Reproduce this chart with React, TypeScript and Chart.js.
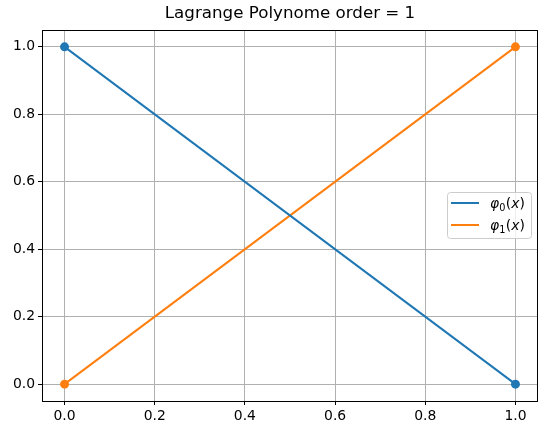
import React, { useEffect, useRef } from "react";
import { Chart, registerables } from "chart.js";
Chart.register(...registerables);

const xNodes = [0, 1];
const phi0Values = [1, 0];
const phi1Values = [0, 1];
const xTicks = [0, 0.2, 0.4, 0.6, 0.8, 1.0];
const yTicks = [0, 0.2, 0.4, 0.6, 0.8, 1.0];
const seriesSubscripts = ["0", "1"];
const seriesColors = ["#1f77b4", "#ff7f0e"];
const titleText = "Lagrange Polynome order = 1";

const FONT = "'DejaVu Sans', sans-serif";
const FS = 13.9;

const framePlugin = {
  id: "frame",
  afterDraw(chart: any) {
    const { ctx, chartArea: a } = chart;
    ctx.save();
    ctx.strokeStyle = "#000";
    ctx.lineWidth = 1;
    const l = Math.round(a.left) + 0.5;
    const t = Math.round(a.top) + 0.5;
    const r = Math.round(a.right) - 0.5;
    const b = Math.round(a.bottom) + 0.5;
    ctx.strokeRect(l, t, r - l, b - t);

    // title
    ctx.fillStyle = "#000";
    ctx.font = `16.7px ${FONT}`;
    ctx.textAlign = "center";
    ctx.textBaseline = "alphabetic";
    ctx.fillText(titleText, (a.left + a.right) / 2, 18);

    // legend
    const bx = 447.5, by = 192.5, bw = 84, bh = 46, rad = 3;
    ctx.beginPath();
    ctx.moveTo(bx + rad, by);
    ctx.lineTo(bx + bw - rad, by);
    ctx.arcTo(bx + bw, by, bx + bw, by + rad, rad);
    ctx.lineTo(bx + bw, by + bh - rad);
    ctx.arcTo(bx + bw, by + bh, bx + bw - rad, by + bh, rad);
    ctx.lineTo(bx + rad, by + bh);
    ctx.arcTo(bx, by + bh, bx, by + bh - rad, rad);
    ctx.lineTo(bx, by + rad);
    ctx.arcTo(bx, by, bx + rad, by, rad);
    ctx.closePath();
    ctx.fillStyle = "rgba(255,255,255,0.8)";
    ctx.fill();
    ctx.strokeStyle = "#cccccc";
    ctx.stroke();

    const rows = [203, 225];
    ctx.textAlign = "left";
    seriesSubscripts.forEach((sub, i) => {
      const y = rows[i];
      ctx.strokeStyle = seriesColors[i];
      ctx.lineWidth = 2;
      ctx.beginPath();
      ctx.moveTo(451, y);
      ctx.lineTo(479, y);
      ctx.stroke();
      ctx.fillStyle = "#000";
      let x = 490;
      const base = y + 5;
      ctx.font = `italic ${FS}px ${FONT}`;
      ctx.fillText("φ", x, base);
      x += ctx.measureText("φ").width;
      ctx.font = `${FS * 0.7}px ${FONT}`;
      ctx.fillText(sub, x, base + 2.5);
      x += ctx.measureText(sub).width + 0.5;
      ctx.font = `${FS}px ${FONT}`;
      ctx.fillText("(", x, base);
      x += ctx.measureText("(").width;
      ctx.font = `italic ${FS}px ${FONT}`;
      ctx.fillText("x", x, base);
      x += ctx.measureText("x").width;
      ctx.font = `${FS}px ${FONT}`;
      ctx.fillText(")", x, base);
    });
    ctx.restore();
  },
};

export default function App() {
  const ref = useRef<HTMLCanvasElement>(null);
  useEffect(() => {
    document.body.style.margin = "0";
    const mk = (vals: number[], i: number) => ({
      label: `phi${i}`,
      data: xNodes.map((x, k) => ({ x, y: vals[k] })),
      showLine: true,
      borderColor: seriesColors[i],
      backgroundColor: seriesColors[i],
      borderWidth: 2,
      pointRadius: 4.5,
      pointHoverRadius: 4.5,
      pointBorderWidth: 0,
    });
    const tickOpts = {
      font: { family: FONT, size: FS },
      color: "#000",
      padding: 3,
      maxRotation: 0,
      autoSkip: false,
      callback: (v: any) => Number(v).toFixed(1),
    };
    const gridOpts = { color: "#b0b0b0", lineWidth: 1, tickLength: 4, tickColor: "#000", tickWidth: 1 };
    const chart = new Chart(ref.current!, {
      type: "scatter",
      data: { datasets: [mk(phi0Values, 0), mk(phi1Values, 1)] },
      options: {
        animation: false,
        responsive: false,
        devicePixelRatio: 1,
        layout: { padding: { top: 30, right: 9, left: 0, bottom: 0 } },
        plugins: { legend: { display: false }, title: { display: false }, tooltip: { enabled: false } },
        scales: {
          x: {
            type: "linear",
            min: -0.05,
            max: 1.05,
            afterBuildTicks: (s: any) => { s.ticks = xTicks.map((v) => ({ value: v })); },
            afterFit: (s: any) => { s.height = 33; },
            ticks: tickOpts,
            grid: gridOpts,
            border: { display: false },
          },
          y: {
            type: "linear",
            min: -0.05,
            max: 1.05,
            afterBuildTicks: (s: any) => { s.ticks = yTicks.map((v) => ({ value: v })); },
            afterFit: (s: any) => { s.width = 42; },
            ticks: tickOpts,
            grid: gridOpts,
            border: { display: false },
          },
        },
      } as any,
      plugins: [framePlugin],
    });
    return () => chart.destroy();
  }, []);
  return <canvas ref={ref} width={547} height={434} style={{ display: "block" }} />;
}
